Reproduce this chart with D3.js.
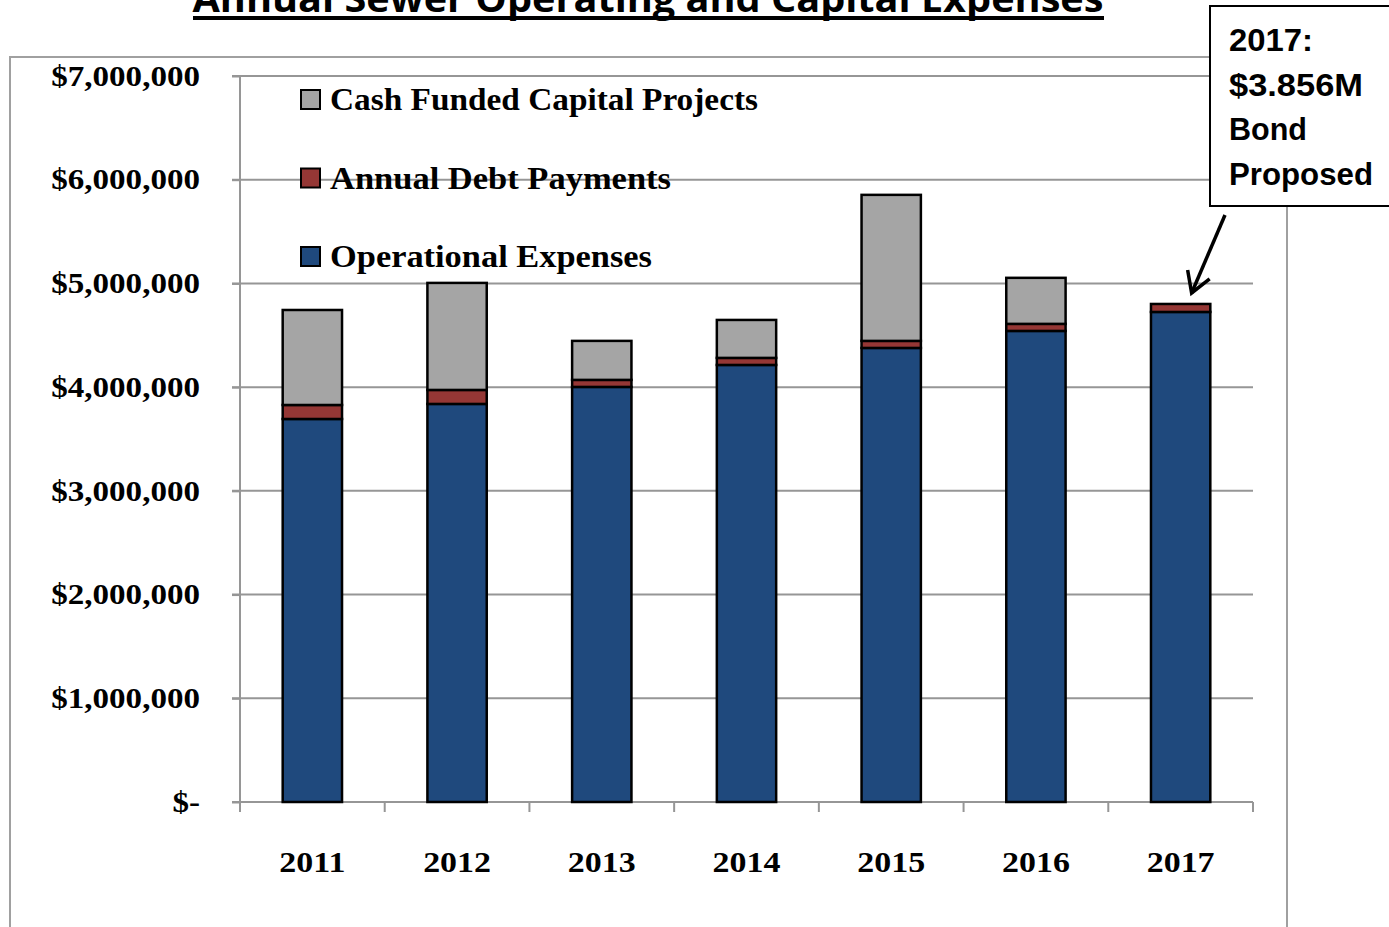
<!DOCTYPE html>
<html>
<head>
<meta charset="utf-8">
<script src="https://cdn.jsdelivr.net/npm/d3@7"></script>
<style>
  html, body { margin: 0; padding: 0; background: #fff; }
  svg { display: block; }
</style>
</head>
<body>
<svg id="chart" width="1389" height="927"></svg>
<script>
// Annual sewer expenses by year, in dollars
const years = ["2011", "2012", "2013", "2014", "2015", "2016", "2017"];
const operational = [3693000, 3838000, 4002000, 4214000, 4378000, 4542000, 4725000];
const debtPayments = [135000, 135000, 68000, 68000, 68000, 68000, 77000];
const capitalProjects = [916000, 1032000, 376000, 366000, 1408000, 444000, 0];
const yTicks = [0, 1000000, 2000000, 3000000, 4000000, 5000000, 6000000, 7000000];
const seriesNames = ["Cash Funded Capital Projects", "Annual Debt Payments", "Operational Expenses"];

const colors = {
  operational: "#1f497d",
  debt: "#953735",
  capital: "#a5a5a5"
};

const svg = d3.select("#chart");
const serif = "'Liberation Serif', 'DejaVu Serif', serif";
const sans = "'Liberation Sans', Arial, sans-serif";

// Widen serif text horizontally to mimic a broader book face
function widen(sel, factor) {
  sel.each(function () {
    const w = this.getComputedTextLength();
    d3.select(this).attr("textLength", w * factor).attr("lengthAdjust", "spacingAndGlyphs");
  });
}

// Outer chart frame
svg.append("path")
  .attr("d", "M10,930 L10,57 L1287,57 L1287,930")
  .attr("fill", "none")
  .attr("stroke", "#a0a0a0")
  .attr("stroke-width", 2);

// Title (underlined)
svg.append("text")
  .attr("x", 648).attr("y", 12)
  .attr("text-anchor", "middle")
  .attr("font-family", "'Open Sans', " + sans)
  .attr("font-weight", "bold")
  .attr("font-size", 38)
  .attr("textLength", 911)
  .attr("lengthAdjust", "spacingAndGlyphs")
  .text("Annual Sewer Operating and Capital Expenses");
svg.append("rect")
  .attr("x", 193).attr("y", 16).attr("width", 911).attr("height", 4)
  .attr("fill", "#000");

const plotLeft = 240, plotRight = 1253, plotTop = 76, plotBottom = 802;

const x = d3.scaleBand().domain(years).range([plotLeft, plotRight]).paddingInner(0.59).paddingOuter(0.295);
const y = d3.scaleLinear().domain([0, 7000000]).range([plotBottom, plotTop]);

// Gridlines
svg.append("g")
  .selectAll("line")
  .data(yTicks.filter(d => d > 0))
  .join("line")
  .attr("x1", plotLeft - 8).attr("x2", plotRight)
  .attr("y1", d => y(d)).attr("y2", d => y(d))
  .attr("stroke", "#969696")
  .attr("stroke-width", 2);

// Y axis
const yAxis = svg.append("g")
  .attr("transform", `translate(${plotLeft},0)`)
  .call(d3.axisLeft(y).tickValues(yTicks).tickSize(8).tickPadding(32)
    .tickFormat(d => d === 0 ? "$-" : "$" + d3.format(",")(d)));
yAxis.select(".domain").attr("stroke", "#969696").attr("stroke-width", 2)
  .attr("d", `M-8,${plotTop}H0V${plotBottom + 10}`);
yAxis.selectAll(".tick line").attr("stroke", "#969696").attr("stroke-width", 2);
yAxis.selectAll(".tick text")
  .attr("font-family", serif)
  .attr("font-weight", "bold")
  .attr("font-size", 29)
  .attr("fill", "#000")
  .attr("dy", "0.32em")
  .call(widen, 1.14);

// X axis with boundary ticks between categories
const xAxis = svg.append("g")
  .attr("transform", `translate(0,${plotBottom})`);
xAxis.append("line")
  .attr("x1", plotLeft - 8).attr("x2", plotRight)
  .attr("stroke", "#969696").attr("stroke-width", 2);
const boundaries = years.map(d => x(d) - x.step() * x.paddingInner() / 2);
boundaries.push(plotRight);
xAxis.selectAll("line.bound")
  .data(boundaries)
  .join("line")
  .attr("class", "bound")
  .attr("x1", d => d).attr("x2", d => d)
  .attr("y1", 0).attr("y2", 10)
  .attr("stroke", "#969696").attr("stroke-width", 2);
xAxis.selectAll("text")
  .data(years)
  .join("text")
  .attr("x", d => x(d) + x.bandwidth() / 2)
  .attr("y", 70)
  .attr("text-anchor", "middle")
  .attr("font-family", serif)
  .attr("font-weight", "bold")
  .attr("font-size", 29)
  .text(d => d)
  .call(widen, 1.17);

// Stacked bars
const table = years.map((yr, i) => ({
  year: yr,
  operational: operational[i],
  debt: debtPayments[i],
  capital: capitalProjects[i]
}));
const stack = d3.stack().keys(["operational", "debt", "capital"]);
const layers = stack(table);

svg.append("g")
  .selectAll("g")
  .data(layers)
  .join("g")
  .attr("fill", d => colors[d.key])
  .selectAll("rect")
  .data(d => d.filter(p => p[1] - p[0] > 0))
  .join("rect")
  .attr("x", d => x(d.data.year))
  .attr("width", x.bandwidth())
  .attr("y", d => y(d[1]))
  .attr("height", d => y(d[0]) - y(d[1]))
  .attr("stroke", "#000")
  .attr("stroke-width", 2.5);

// Legend
const legendColors = [colors.capital, colors.debt, colors.operational];
const legendWidths = [428, 341, 322];
const legend = svg.append("g");
seriesNames.forEach((name, i) => {
  const ly = 100 + i * 78.5;
  legend.append("rect")
    .attr("x", 301).attr("y", ly - 10).attr("width", 19).attr("height", 19)
    .attr("fill", legendColors[i]).attr("stroke", "#000").attr("stroke-width", 2);
  legend.append("text")
    .attr("x", 330).attr("y", ly + 10)
    .attr("font-family", serif)
    .attr("font-weight", "bold")
    .attr("font-size", 31)
    .attr("textLength", legendWidths[i])
    .attr("lengthAdjust", "spacingAndGlyphs")
    .text(name);
});

// Bond callout
svg.append("rect")
  .attr("x", 1210).attr("y", 6).attr("width", 190).attr("height", 200)
  .attr("fill", "#fff").attr("stroke", "#000").attr("stroke-width", 2);
const noteLines = ["2017:", "$3.856M", "Bond", "Proposed"];
const noteWidths = [84, 134, 78, 144];
svg.append("g")
  .selectAll("text")
  .data(noteLines)
  .join("text")
  .attr("x", 1229)
  .attr("y", (d, i) => 51 + i * 44.7)
  .attr("font-family", sans)
  .attr("font-weight", "bold")
  .attr("font-size", 31)
  .attr("textLength", (d, i) => noteWidths[i])
  .attr("lengthAdjust", "spacingAndGlyphs")
  .text(d => d);

// Arrow pointing at the 2017 bar
const tipX = x("2017") + x.bandwidth() / 2 + 11;
const tipY = y(operational[6] + debtPayments[6]) - 11;
svg.append("line")
  .attr("x1", 1225).attr("y1", 215)
  .attr("x2", tipX).attr("y2", tipY)
  .attr("stroke", "#000").attr("stroke-width", 3.5);
svg.append("path")
  .attr("d", `M${tipX - 4},${tipY - 23} L${tipX},${tipY} L${tipX + 18},${tipY - 14}`)
  .attr("fill", "none").attr("stroke", "#000").attr("stroke-width", 3.5)
  .attr("stroke-linejoin", "miter");
</script>
</body>
</html>
